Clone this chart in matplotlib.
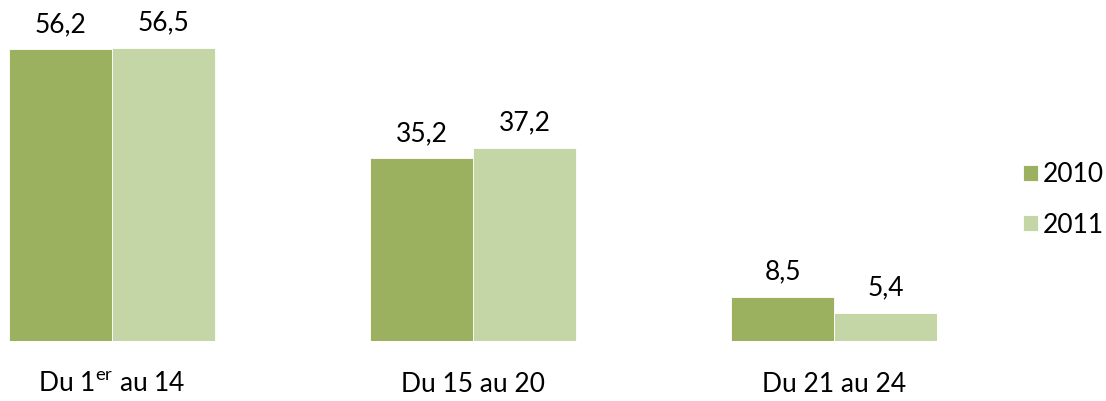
import matplotlib
matplotlib.use("Agg")
import matplotlib.pyplot as plt
import numpy as np

plt.rcParams['font.family'] = ['Lato', 'DejaVu Sans']
plt.rcParams['mathtext.fontset'] = 'custom'
plt.rcParams['mathtext.rm'] = 'Lato'

categories = ["Du 1$^{\\mathrm{er}}$ au 14", "Du 15 au 20", "Du 21 au 24"]
series_names = ["2010", "2011"]
values_2010 = [56.2, 35.2, 8.5]
values_2011 = [56.5, 37.2, 5.4]
colors = ["#9BB15F", "#C5D6A6"]

W, H = 1106, 401
fig = plt.figure(figsize=(W / 100, H / 100), dpi=100)
left_px, right_px = 9, 937
bottom_px, top_px = 341, 341 - 60 * 5.19
ax = fig.add_axes([left_px / W, 1 - bottom_px / H, (right_px - left_px) / W, (bottom_px - top_px) / H])

x = np.arange(len(categories))
bw = 0.285
fmt = lambda v: f"{v:.1f}".replace(".", ",")
for i, (vals, name, col) in enumerate(zip([values_2010, values_2011], series_names, colors)):
    pos = x + (i - 0.5) * bw
    ax.bar(pos, vals, width=bw, color=col, edgecolor="white", linewidth=0.6, label=name)
    for p, v in zip(pos, vals):
        ax.annotate(fmt(v), (p, v), xytext=(0, 12.5), textcoords="offset points",
                    ha="center", va="baseline", fontsize=19)

ax.set_xlim(-bw, len(categories) - 1 + bw)
ax.set_ylim(0, 60)
ax.axis("off")
for xi, c in zip(x, categories):
    ax.annotate(c, (xi, 0), xytext=(0, -31), textcoords="offset points",
                ha="center", va="center", fontsize=19)

fig.legend(loc="center left", bbox_to_anchor=(1012 / W, 1 - 200 / H), frameon=False,
           fontsize=19, handlelength=0.58, handleheight=0.58, handletextpad=0.2,
           labelspacing=0.95, borderaxespad=0)
fig.savefig("out.png", dpi=100)
